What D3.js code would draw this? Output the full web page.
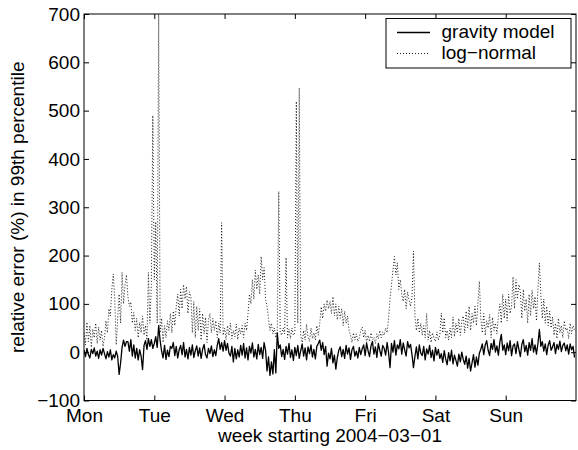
<!DOCTYPE html>
<html>
<head>
<meta charset="utf-8">
<script src="https://d3js.org/d3.v7.min.js"></script>
<style>
  body { margin: 0; background: #fff; }
  text { font-family: "Liberation Sans", Arial, sans-serif; }
</style>
</head>
<body>
<div id="my_dataviz"></div>
<script>
// day names on the x axis, one tick every 24 hours
var dayLabels = ["Mon", "Tue", "Wed", "Thu", "Fri", "Sat", "Sun"]
var yTicks = [-100, 0, 100, 200, 300, 400, 500, 600, 700]

// relative error (%), one value every half hour, gravity model
var gravity = [
  4,-9,8,-5,-12,6,-3,9,-8,2,-13,5,-6,8, -3,-14,1,-10,5,-16,-5,-12,2,-9, -46,-22, 10,25,12,22,
  22,2,26,-8,15,-12,8,-16,5,-8, -36, 14,24,6,28,12,26,8,
  18,32,10,55, 24,2,-12,14,-15,4,-9,12,
  8,20,-7,12,-12,5,14,-5,20,-10,6,-14,10,-6,15,-11,3,13,-8,9,-13,6,16,-5,-12,8,-3,13,-9,5,-7,
  14,28,6,20,2,
  24,4,18,-2, -8,12,-20,8,-14,5,-10, 14,-6,18,-12,9,-16,12,-2,19,-10,6,-14,16,-5,10,-13,20,4,
  -39,-10,-48,-20,-45,5,-43,40,8,
  15,-9,6,-15,12,-4,18,-11,5,-17,10,-7,14,-13,3,17,-8,9,-16,11,-3,15,-10,6,-14,12,
  18,25,4,20,-5,12,-29,-2, -14,8,-22,-6,-35,-11,4,
  11,-9,6,-13,14,-4,9,-15,5,12,-8,2,-12,10,-5,7,
  15,-7,19,3,-9,13,22,-4,11,-11,18,4,-8,14,8,-6,20,-1, -32,
  18,0,24,-6,15,7,26,-4,19,5,-8,22,9,16,-5, -32,
  -9,11,-14,15,-2,-7,12,-16,7,-4,14,-11,4,-18,10,-6,6,-13,
  -3,-21,3,-14,-26,-1,-18,4,-24,-6,-17,-29,-4,-20,0,-15,
  -25,-8,-33,-13,-39,-22,-5,-31,-10,-27,-2,
  6,17,-5,15,24,4,-7,18,6,26,0,13,-6,21,37,4,
  15,-5,19,3,24,-7,13,17,-3,22,6,-9,16,26,1,14,-6,20,4,28,0,15,-4,18,47,
  12,22,2,17,-5,15,24,4,11,20,-3,16,6,23,1,14,19,3,15,-4,17,5,12, -11
]

// relative error (%), one value every half hour, log-normal
var logNormal = [
  40,15,62,22,55,10,48,30,60,18,52,25,45,12, 30,65,40,90, 75,130,162,110, 15,70,
  120,60,165,100,140,160,115, 95,104,60, 82,45,70,30,62,40,75,35,55,25, 165,60,140, 490,
  150,270,60,700, 40,70,20,55, 30,65,45,80,40,85,55,95, 120,75,130,90,140,110,136,80,125,
  115,40,105,30,95,45,90,25,80,38,72,20,67, 80,40,70,45, 65,30,60,40, 268, 35,
  50,26,55,35,60,28,45,32,58,26,50,38,55,30,60,45,
  80,120,100,150,110,170,130,160,120,198,150,175,110,95,
  70,45,60,38,50,30,45, 333, 40,35,50,38, 196, 30,48,28,50,35,
  40,519,60,547, 35,20,45,25,58,30,22,50,28,40,25,55,35, 60,94,70,100,85,108,90,105,
  80,115,75,100,67,95,70, 90,55,85,60,75,45, 35,20,40,25,38,22,30,45, 52,30,
  45,20,35,22,40,25,30,18,38,28,45,30,42,35,50,40, 70,110,140,170,198,160,185,130,150,
  120,105,130,90,125,108,95,115, 209, 75,45,70,40,60,35,55,30,80, 25,45,20,40,30,22,42,25,35,
  81,40,71,30, 45,25,50,30, 73,32,60,40,70,35,65, 75,40,85,50,95,45,80,60,95,55,100, 147,
  70,40,80,35,65,50,78,30,72,45,60,38,75, 100,60,120,70,
  110,65,120,80,95, 156,90,150,110,140, 125,70,130,85,110,60,120,75,128,90,115,65,130, 185,
  120,70,110,60,95,55,85,50, 73,35,60,28,70,40,55,30,65,45,50,28,60,38,55,45
]

var legendNames = ["gravity model", "log\u2212normal"]

var margin = {top: 14, right: 2, bottom: 49.5, left: 84}
var width = 578 - margin.left - margin.right
var height = 450 - margin.top - margin.bottom

var svg = d3.select("#my_dataviz")
  .append("svg")
    .attr("width", 578)
    .attr("height", 450)
  .append("g")
    .attr("transform", "translate(" + margin.left + "," + margin.top + ")")

var x = d3.scaleLinear().domain([0, 168]).range([0, width])
var y = d3.scaleLinear().domain([-100, 700]).range([height, 0])

var fontSize = "19px"

// bottom axis with day names, ticks pointing inwards
var xAxis = svg.append("g")
    .attr("transform", "translate(0," + height + ")")
    .call(d3.axisBottom(x)
      .tickValues(d3.range(0, 168, 24))
      .tickFormat(function(d, i) { return dayLabels[i] })
      .tickSizeInner(-5).tickSizeOuter(0).tickPadding(8))
xAxis.select(".domain").remove()

// top ticks, no labels
var xTop = svg.append("g")
    .call(d3.axisTop(x)
      .tickValues(d3.range(0, 168, 24))
      .tickFormat("")
      .tickSizeInner(-5).tickSizeOuter(0))
xTop.select(".domain").remove()

var yAxis = svg.append("g")
    .call(d3.axisLeft(y)
      .tickValues(yTicks)
      .tickSizeInner(-5).tickSizeOuter(0).tickPadding(4))
yAxis.select(".domain").remove()

var yRight = svg.append("g")
    .attr("transform", "translate(" + width + ",0)")
    .call(d3.axisRight(y)
      .tickValues(yTicks)
      .tickFormat("")
      .tickSizeInner(-5).tickSizeOuter(0))
yRight.select(".domain").remove()

svg.selectAll(".tick text")
    .attr("font-size", fontSize)
    .attr("font-family", "Liberation Sans, Arial, sans-serif")
    .attr("fill", "#000")

// clip the lines to the plot box
svg.append("clipPath").attr("id", "plotclip")
  .append("rect").attr("width", width).attr("height", height)

var line = d3.line()
    .x(function(d, i) { return x(i / 2) })
    .y(function(d) { return y(d) })

var lines = svg.append("g").attr("clip-path", "url(#plotclip)")

lines.append("path")
    .datum(logNormal)
    .attr("fill", "none")
    .attr("stroke", "#000")
    .attr("stroke-width", 0.9)
    .attr("stroke-dasharray", "1,2")
    .attr("d", line)

lines.append("path")
    .datum(gravity)
    .attr("fill", "none")
    .attr("stroke", "#000")
    .attr("stroke-width", 1.3)
    .attr("stroke-linejoin", "round")
    .attr("d", line)

// box around the plot
svg.append("rect")
    .attr("width", width)
    .attr("height", height)
    .attr("fill", "none")
    .attr("stroke", "#000")
    .attr("stroke-width", 1)

// axis titles
svg.append("text")
    .attr("x", width / 2)
    .attr("y", height + 41)
    .attr("text-anchor", "middle")
    .attr("font-size", fontSize)
    .text("week starting 2004\u221203\u221201")

svg.append("text")
    .attr("transform", "translate(" + (24 - margin.left) + "," + (height / 2) + ") rotate(-90)")
    .attr("text-anchor", "middle")
    .attr("font-size", fontSize)
    .text("relative error (%) in 99th percentile")

// legend box top right
var legend = svg.append("g")
    .attr("transform", "translate(" + (386 - margin.left) + "," + (18.5 - margin.top) + ")")

legend.append("rect")
    .attr("width", 185)
    .attr("height", 49.5)
    .attr("fill", "#fff")
    .attr("stroke", "#000")
    .attr("stroke-width", 1)

legend.selectAll("line.key")
  .data(legendNames)
  .enter()
  .append("line")
    .attr("class", "key")
    .attr("x1", 11).attr("x2", 44)
    .attr("y1", function(d, i) { return 14 + i * 21 })
    .attr("y2", function(d, i) { return 14 + i * 21 })
    .attr("stroke", "#000")
    .attr("stroke-width", function(d, i) { return i == 0 ? 1.3 : 0.9 })
    .attr("stroke-dasharray", function(d, i) { return i == 0 ? null : "1,2" })

legend.selectAll("text.name")
  .data(legendNames)
  .enter()
  .append("text")
    .attr("class", "name")
    .attr("x", 55.5)
    .attr("y", function(d, i) { return 19.5 + i * 21 })
    .attr("font-size", fontSize)
    .text(function(d) { return d })
</script>
</body>
</html>
